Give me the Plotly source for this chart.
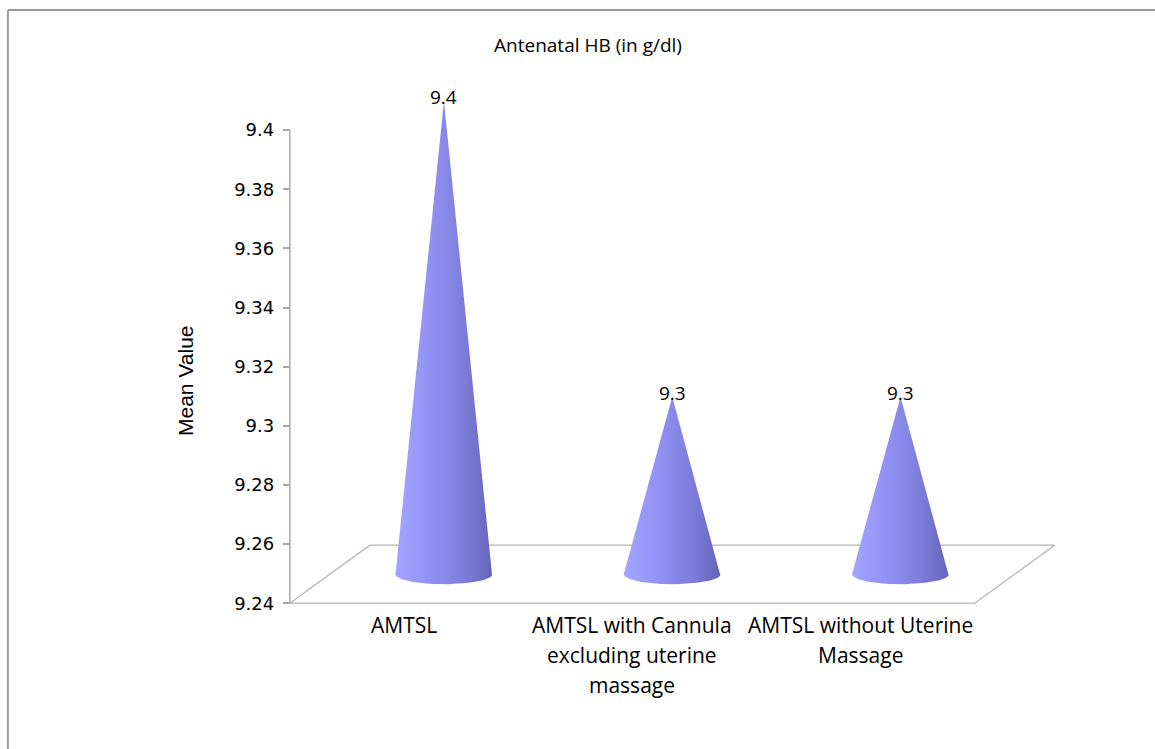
import numpy as np
import plotly.graph_objects as go

# ---------------- data ----------------
categories = [
    "AMTSL",
    "AMTSL with Cannula excluding uterine massage",
    "AMTSL without Uterine Massage",
]
category_lines = [
    ["AMTSL"],
    ["AMTSL with Cannula", "excluding uterine", "massage"],
    ["AMTSL without Uterine", "Massage"],
]
mean_values = [9.4, 9.3, 9.3]
value_labels = ["9.4", "9.3", "9.3"]
tick_values = [9.24, 9.26, 9.28, 9.30, 9.32, 9.34, 9.36, 9.38, 9.40]
tick_labels = ["9.24", "9.26", "9.28", "9.3", "9.32", "9.34", "9.36", "9.38", "9.4"]
chart_title = "Antenatal HB (in g/dl)"
y_title = "Mean Value"

# ---------------- layout geometry ----------------
W, H = 1155, 749
AX_L, AX_R, AX_B, AX_T = 290, 975, 603, 130      # front axis box in pixels
Y_MIN, Y_MAX = tick_values[0], tick_values[-1]
n = len(categories)
px_x = (AX_R - AX_L) / n
px_y = (AX_B - AX_T) / (Y_MAX - Y_MIN)

X_RANGE = [-0.6, n - 0.5 + 0.4]
Y_RANGE = [Y_MIN - 0.005, Y_MAX + 0.02]
plot_l = AX_L - (-0.5 - X_RANGE[0]) * px_x
plot_r = AX_L + (X_RANGE[1] + 0.5) * px_x
plot_b = AX_B + (Y_MIN - Y_RANGE[0]) * px_y
plot_t = AX_B - (Y_RANGE[1] - Y_MIN) * px_y

DX = 80 / px_x          # 3-D depth offset (x)
DY = 58 / px_y          # 3-D depth offset (y)
RX = 48.5 / px_x        # cone base radius
RY = 10 / px_y          # cone base ellipse half-height

def paper_x(px):
    return (px - plot_l) / (plot_r - plot_l)

def paper_y(py):
    return (plot_b - py) / (plot_b - plot_t)

fig = go.Figure()

# floor of the 3-D plot area
floor_y0 = Y_MIN
fig.add_trace(go.Scatter(
    x=[-0.5, n - 0.5, n - 0.5 + DX, -0.5 + DX, -0.5],
    y=[floor_y0, floor_y0, floor_y0 + DY, floor_y0 + DY, floor_y0],
    mode="lines", line=dict(color="#b4b4b4", width=1.3),
    hoverinfo="skip", showlegend=False))

# vertical axis line
fig.add_trace(go.Scatter(
    x=[-0.5, -0.5], y=[Y_MIN, Y_MAX], mode="lines",
    line=dict(color="#a8a8a8", width=1.5), hoverinfo="skip", showlegend=False))

# cones
theta = np.linspace(0, -np.pi, 80)
cone_scale = [[0, "rgb(164,164,255)"], [0.35, "rgb(146,146,244)"],
              [0.75, "rgb(122,122,214)"], [1, "rgb(100,100,186)"]]
for i, (cat, v) in enumerate(zip(categories, mean_values)):
    cx = i + DX / 2
    yb = Y_MIN + DY / 2
    apex = v + DY / 2
    ex = cx + RX * np.cos(theta)
    ey = yb + RY * np.sin(theta)
    xs = [cx] + list(ex) + [cx]
    ys = [apex] + list(ey) + [apex]
    fig.add_trace(go.Scatter(
        x=xs, y=ys, mode="lines", fill="toself",
        fillcolor="rgb(130,130,230)",
        fillgradient=dict(type="horizontal", colorscale=cone_scale),
        line=dict(color="rgba(0,0,0,0)", width=0),
        name=cat, hoverinfo="skip", showlegend=False))
    fig.add_annotation(
        x=cx, y=apex, xref="x", yref="y", text=value_labels[i],
        showarrow=False, yanchor="middle", xanchor="center", yshift=4,
        font=dict(family="Open Sans", size=19, color="#000000"))

# category labels
for i, lines in enumerate(category_lines):
    for k, line in enumerate(lines):
        fig.add_annotation(
            x=i, y=Y_MIN, xref="x", yref="y", text=line, showarrow=False,
            xanchor="center", yanchor="middle", yshift=-(22 + 30 * k),
            font=dict(family="Open Sans", size=21, color="#000000"))

# y-axis title
fig.add_annotation(
    x=paper_x(185), y=paper_y(380), xref="paper", yref="paper",
    text=y_title, textangle=-90, showarrow=False,
    xanchor="center", yanchor="middle",
    font=dict(family="Liberation Sans", size=21, color="#000000"))

# chart border (top and left)
border = dict(color="#9a9a9a", width=2)
fig.add_shape(type="line", xref="paper", yref="paper",
              x0=paper_x(8), x1=paper_x(W + 5), y0=paper_y(10), y1=paper_y(10), line=border)
fig.add_shape(type="line", xref="paper", yref="paper",
              x0=paper_x(8), x1=paper_x(8), y0=paper_y(10), y1=paper_y(H + 5), line=border)

fig.update_layout(
    width=W, height=H,
    margin=dict(l=plot_l, r=W - plot_r, t=plot_t, b=H - plot_b, pad=0),
    paper_bgcolor="white", plot_bgcolor="white",
    title=dict(text=chart_title, x=588 / W, y=1 - 45 / H, xref="container",
               yref="container", xanchor="center", yanchor="middle",
               font=dict(family="Open Sans", size=19, color="#000000")),
    xaxis=dict(range=X_RANGE, showgrid=False, zeroline=False, showline=False,
               showticklabels=False, ticks="", fixedrange=True),
    yaxis=dict(range=Y_RANGE, anchor="free", position=paper_x(AX_L),
               showgrid=False, zeroline=False, showline=False,
               tickmode="array", tickvals=tick_values, ticktext=tick_labels,
               ticks="outside", ticklen=7, tickcolor="#a8a8a8", tickwidth=1.5,
               ticklabelstandoff=5,
               tickfont=dict(family="DejaVu Sans", size=18, color="#000000"),
               fixedrange=True),
    showlegend=False,
)

fig.write_html("out.html")
